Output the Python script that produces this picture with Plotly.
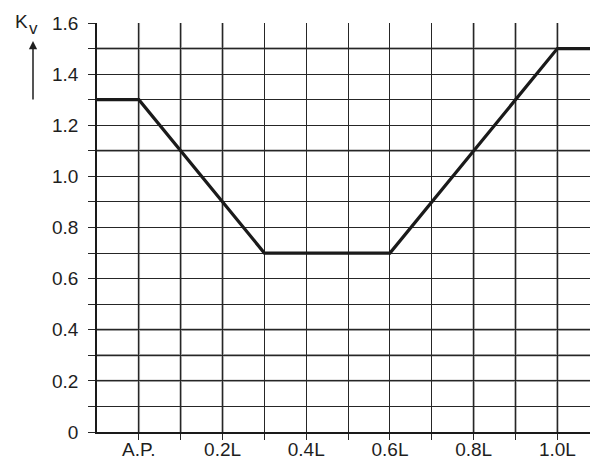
import plotly.graph_objects as go

# Data
x_pos = [-0.1, 0.0, 0.3, 0.6, 1.0, 1.08]
kv = [1.3, 1.3, 0.7, 0.7, 1.5, 1.5]

x_tickvals = [round(0.1 * i, 1) for i in range(0, 11)]
x_ticktext = ["A.P.", " ", "0.2L", " ", "0.4L", " ", "0.6L", " ", "0.8L", " ", "1.0L"]
y_tickvals = [round(0.1 * i, 1) for i in range(0, 17)]
y_ticktext = ["0", " ", "0.2", " ", "0.4", " ", "0.6", " ", "0.8", " ", "1.0", " ",
              "1.2", " ", "1.4", " ", "1.6"]

gray_x = [0.0, 0.1, 0.2, 0.8, 0.9, 1.0]
gray_y = [0.2, 0.3, 0.4, 1.1, 1.5]

FONT = "Liberation Sans, Arial, sans-serif"

fig = go.Figure()
fig.add_trace(go.Scatter(x=x_pos, y=kv, mode="lines",
                         line=dict(color="#1a1a1a", width=3.2),
                         showlegend=False, hoverinfo="skip"))

shapes = []
for gx in gray_x:
    shapes.append(dict(type="line", xref="x", yref="paper", x0=gx, x1=gx, y0=0, y1=1,
                       line=dict(color="#999999", width=2.4), layer="below"))
for gy in gray_y:
    shapes.append(dict(type="line", xref="paper", yref="y", x0=0, x1=1, y0=gy, y1=gy,
                       line=dict(color="#999999", width=2.4), layer="below"))

fig.update_layout(
    width=590, height=462,
    margin=dict(l=97, r=0, t=23, b=30),
    paper_bgcolor="white", plot_bgcolor="white",
    font=dict(family=FONT, size=19, color="#1e1e1e"),
    shapes=shapes,
    xaxis=dict(range=[-0.1, 1.078], tickmode="array", tickvals=x_tickvals,
               ticktext=x_ticktext, showgrid=True, gridcolor="#262626", gridwidth=1.3,
               ticks="outside", ticklen=6, tickwidth=1.3, tickcolor="#262626",
               showline=True, linecolor="#1a1a1a", linewidth=1.5, zeroline=False,
               tickfont=dict(family=FONT, size=19), ticklabelstandoff=-7,
               layer="below traces", automargin=False),
    yaxis=dict(range=[0, 1.6], tickmode="array", tickvals=y_tickvals,
               ticktext=y_ticktext, showgrid=True, gridcolor="#262626", gridwidth=1.3,
               ticks="outside", ticklen=7, tickwidth=1.3, tickcolor="#262626",
               showline=True, linecolor="#1a1a1a", linewidth=1.5, zeroline=False,
               tickfont=dict(family=FONT, size=19), ticklabelstandoff=6,
               layer="below traces", automargin=False),
    annotations=[
        dict(text="K", xref="paper", yref="paper",
             x=(21 - 97) / 493, y=1 + (23 - 21) / 409, showarrow=False,
             font=dict(family=FONT, size=19, color="#1e1e1e"),
             xanchor="center", yanchor="middle"),
        dict(text="v", xref="paper", yref="paper",
             x=(33 - 97) / 493, y=1 + (23 - 28) / 409, showarrow=False,
             font=dict(family=FONT, size=17, color="#1e1e1e"),
             xanchor="center", yanchor="middle"),
        dict(text="", xref="paper", yref="paper",
             x=(33 - 97) / 493, y=(432 - 41) / 409, showarrow=True,
             ax=0, ay=60, arrowhead=2, arrowsize=1.1, arrowwidth=1.5,
             arrowcolor="#1e1e1e"),
    ],
)

fig.write_html("out.html", config={"displayModeBar": False},
               post_script="document.body.style.margin='0';document.body.style.padding='0';")
